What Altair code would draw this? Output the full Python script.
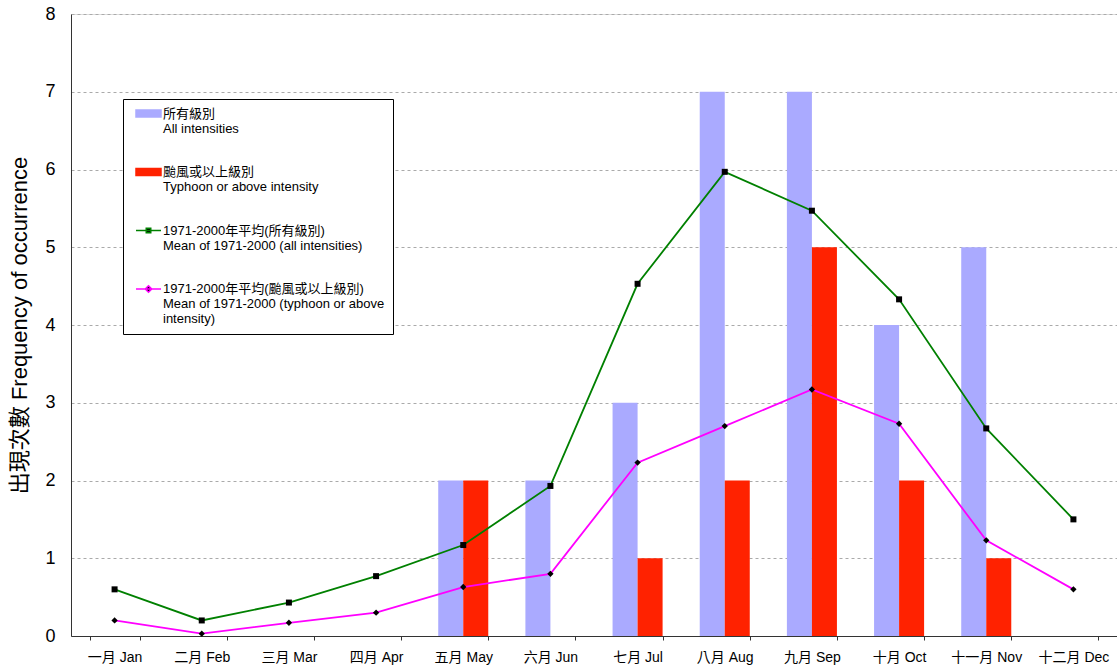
import altair as alt
import pandas as pd

months = ["一月 Jan", "二月 Feb", "三月 Mar", "四月 Apr", "五月 May", "六月 Jun",
          "七月 Jul", "八月 Aug", "九月 Sep", "十月 Oct", "十一月 Nov", "十二月 Dec"]
all_intensities = [0, 0, 0, 0, 2, 2, 3, 7, 7, 4, 5, 0]
typhoon_above = [0, 0, 0, 0, 2, 0, 1, 2, 5, 2, 1, 0]
mean_all = [0.6, 0.2, 0.43, 0.77, 1.17, 1.93, 4.53, 5.97, 5.47, 4.33, 2.67, 1.5]
mean_typhoon = [0.2, 0.03, 0.17, 0.3, 0.63, 0.8, 2.23, 2.7, 3.17, 2.73, 1.23, 0.6]

series_keys = ["A", "T", "MA", "MT"]
series_colors = ["#aaaaff", "#ff2200", "#008000", "#ff00ff"]
symbol_fills = ["#aaaaff", "#ff2200", "#000000", "#000000"]

# legend symbol shapes (one unit = 5px; drawn 25px wide)
bar_sym = "M-2.5,-0.7H2.5V0.7H-2.5Z"
line_sq_sym = "M-2.5,0H2.5M-0.45,-0.45H0.45V0.45H-0.45Z"
line_dm_sym = "M-2.5,0H2.5M0,-0.65L0.65,0L0,0.65L-0.65,0Z"
legend_shapes = [bar_sym, bar_sym, line_sq_sym, line_dm_sym]

bars = pd.DataFrame(
    [{"month": m, "series": "A", "value": v} for m, v in zip(months, all_intensities)]
    + [{"month": m, "series": "T", "value": v} for m, v in zip(months, typhoon_above)]
)
lines = pd.DataFrame(
    [{"month": m, "series": "MA", "value": v} for m, v in zip(months, mean_all)]
    + [{"month": m, "series": "MT", "value": v} for m, v in zip(months, mean_typhoon)]
)
legend_df = pd.DataFrame({"series": series_keys, "month": [months[0]] * 4, "value": [0] * 4})

FONT = "Liberation Sans, Arial, Noto Sans CJK TC, sans-serif"

x_enc = alt.X(
    "month:N", sort=months, title=None,
    scale=alt.Scale(paddingInner=0.426, paddingOuter=0.213),
    axis=alt.Axis(labelAngle=0, labelFontSize=14, labelColor="#000", labelPadding=10,
                  tickBand="extent", tickSize=4, tickColor="#333", domainColor="#333",
                  labelFont=FONT),
)
y_enc = alt.Y(
    "value:Q", title="出現次數  Frequency of occurrence",
    scale=alt.Scale(domain=[0, 8], nice=False),
    axis=alt.Axis(values=list(range(9)), format="d", ticks=False, labelFontSize=18,
                  labelPadding=16, labelColor="#000", grid=True, gridDash=[3, 3],
                  gridColor="#aaaaaa", domainColor="#333", titleFontSize=22,
                  titleFontWeight="normal", titleColor="#000", titlePadding=13,
                  labelFont=FONT, titleFont=FONT),
)
x_plain = alt.X("month:N", sort=months)
y_plain = alt.Y("value:Q")
offset_enc = alt.XOffset("series:N", scale=alt.Scale(domain=["A", "T"], paddingInner=0, paddingOuter=0))

label_expr = (
    "datum.value == 'A' ? ['所有級別', 'All intensities'] : "
    "datum.value == 'T' ? ['颱風或以上級別', 'Typhoon or above intensity'] : "
    "datum.value == 'MA' ? ['1971-2000年平均(所有級別)', 'Mean of 1971-2000 (all intensities)'] : "
    "['1971-2000年平均(颱風或以上級別)', 'Mean of 1971-2000 (typhoon or above', 'intensity)']"
)

def make_legend():
    return alt.Legend(
        title=None, orient="none", legendX=52, legendY=85,
        strokeColor="#000", fillColor="#fff", padding=8,
        labelExpr=label_expr, labelFontSize=13, labelFont=FONT, labelColor="#000",
        labelBaseline="middle", labelOffset=8, labelLimit=400, rowPadding=29.5,
        symbolSize=100, symbolOffset=11, symbolStrokeWidth=1.5, symbolOpacity=1,
    )

bar_a = alt.Chart(bars).transform_filter("datum.series == 'A'").mark_bar(
    color=series_colors[0], opacity=1
).encode(x=x_enc, y=y_enc, xOffset=offset_enc)

bar_t = alt.Chart(bars).transform_filter("datum.series == 'T'").mark_bar(
    color=series_colors[1], opacity=1
).encode(x=x_plain, y=y_plain, xOffset=offset_enc)

line_ma = alt.Chart(lines).transform_filter("datum.series == 'MA'").mark_line(
    color=series_colors[2], strokeWidth=1.8
).encode(x=x_plain, y=y_plain)

line_mt = alt.Chart(lines).transform_filter("datum.series == 'MT'").mark_line(
    color=series_colors[3], strokeWidth=1.8
).encode(x=x_plain, y=y_plain)

sq_layer = alt.Chart(lines).transform_filter("datum.series == 'MA'").mark_point(
    filled=True, color="black", opacity=1, size=36, shape="square"
).encode(x=x_plain, y=y_plain)

dm_layer = alt.Chart(lines).transform_filter("datum.series == 'MT'").mark_point(
    filled=True, color="black", opacity=1, size=40, shape="diamond"
).encode(x=x_plain, y=y_plain)

legend_layer = alt.Chart(legend_df).mark_point(opacity=0).encode(
    x=x_plain, y=y_plain,
    fill=alt.Fill("series:N", scale=alt.Scale(domain=series_keys, range=symbol_fills),
                  legend=make_legend()),
    stroke=alt.Stroke("series:N", scale=alt.Scale(domain=series_keys, range=series_colors),
                      legend=make_legend()),
    shape=alt.Shape("series:N", scale=alt.Scale(domain=series_keys, range=legend_shapes),
                    legend=make_legend()),
)

chart = alt.layer(bar_a, bar_t, line_ma, line_mt, sq_layer, dm_layer, legend_layer).properties(
    width=1046, height=622,
    autosize=alt.AutoSizeParams(type="none"),
    padding={"left": 71, "top": 14, "right": 0, "bottom": 33},
).configure_view(
    stroke="#333", strokeWidth=1
).configure(background="white")

chart.save("out.html", embed_options={"renderer": "svg", "actions": False})
